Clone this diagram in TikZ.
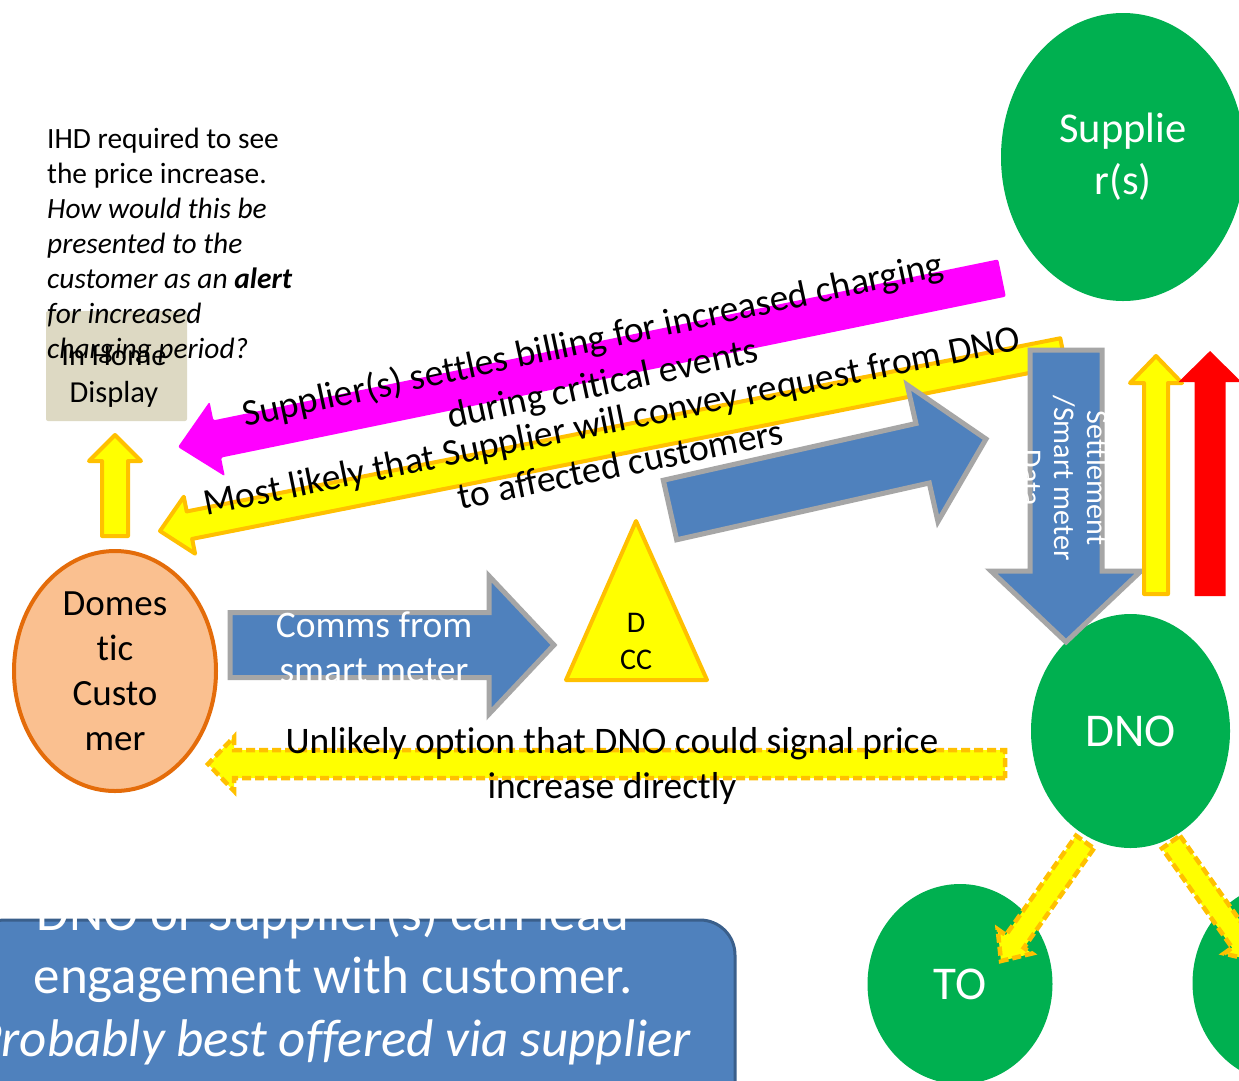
\documentclass[tikz,border=0pt]{standalone}
\usepackage{fontspec}
\setmainfont[Ligatures={NoCommon}]{Carlito}
\usetikzlibrary{shapes.geometric,calc}
\definecolor{grn}{HTML}{00B050}
\definecolor{blu}{HTML}{4F81BD}
\definecolor{bludk}{HTML}{3A5F8B}
\definecolor{gry}{HTML}{A6A6A6}
\definecolor{org}{HTML}{FFC000}
\definecolor{orgdk}{HTML}{E46C0A}
\definecolor{peach}{HTML}{FAC090}
\definecolor{ihdfill}{HTML}{DDD9C3}
\definecolor{mag}{HTML}{FF00FF}
\definecolor{yel}{HTML}{FFFF00}
\definecolor{rd}{HTML}{FF0000}
% block arrow: #1 style, #2 tail, #3 tip, #4 half body, #5 half head, #6 head length
\newcommand{\blockarrow}[6]{%
  \coordinate (bab) at ($(#3)!#6!(#2)$);
  \path[#1] ($(#2)!#4!90:(#3)$) -- ($(bab)!#4!90:(#3)$) -- ($(bab)!#5!90:(#3)$) -- (#3)
    -- ($(bab)!#5!-90:(#3)$) -- ($(bab)!#4!-90:(#3)$) -- ($(#2)!#4!-90:(#3)$) -- cycle;}
\tikzset{
  greenell/.style={ellipse, fill=grn, text=white, inner sep=0pt},
  bluearr/.style={fill=blu, draw=gry, line width=5pt, line join=miter},
  yelarr/.style={fill=yel, draw=org, line width=4pt, line join=round},
  yeldash/.style={fill=yel, draw=org, line width=4.5pt, dash pattern=on 9pt off 4pt},
  magarr/.style={fill=mag, rounded corners=2pt},
  redarr/.style={fill=rd},
  lbl/.style={font=\fontsize{37.5}{45}\selectfont, align=center, inner sep=0pt},
}
\begin{document}
\begin{tikzpicture}[x=1pt,y=-1pt]
\clip (0,0) rectangle (1239,1080);
\fill[white] (0,0) rectangle (1239,1080);

% bottom note box
\draw[fill=blu, draw=bludk, line width=3pt, rounded corners=35pt]
  (-30,1120) -- (-30,920) -- (735,920) -- (735,1120);
\node[font=\fontsize{53}{63}\selectfont, text=white, align=center, inner sep=0pt] (note) at (333,978)
  {DNO or Supplier(s) can lead\\engagement with customer.\\\textit{Probably best offered via supplier}};

% ellipses
\node[greenell, minimum width=244pt, minimum height=288pt, font=\fontsize{42.5}{52}\selectfont, align=center] (supplier) at (1123,157) {Supplie\\r(s)};
\node[greenell, minimum width=199pt, minimum height=234pt, font=\fontsize{47}{52}\selectfont] (dno) at (1130.5,731) {DNO};
\node[greenell, minimum width=185pt, minimum height=200pt, font=\fontsize{47}{52}\selectfont] (to) at (960,984) {TO};
\node[greenell, minimum width=185pt, minimum height=200pt] (tx) at (1285,983) {};
\node[ellipse, fill=peach, draw=orgdk, line width=4pt, minimum width=202pt, minimum height=240pt, inner sep=0pt, font=\fontsize{37}{45}\selectfont, align=center] (cust) at (115,671) {Domes\\tic\\Custo\\mer};

% in home display
\node[rectangle, fill=ihdfill, rounded corners=2pt, minimum width=141pt, minimum height=110pt, inner sep=0pt] (ihd) at (116.5,366) {};
\node[font=\fontsize{30.5}{37}\selectfont, align=center, inner sep=0pt] (ihdlabel) at (114,377) {In Home\\Display};

% IHD note
\node[anchor=north west, font=\fontsize{29.4}{35}\selectfont, align=left, inner sep=0pt] (ihdnote) at (47,128)
  {IHD required to see\\the price increase.\\\textit{How would this be}\\\textit{presented to the}\\\textit{customer as an \textbf{alert}}\\\textit{for increased}\\\textit{charging period?}};

% arrow end points
\coordinate (ihdT) at (115,536);   \coordinate (ihdH) at (115,435);
\coordinate (magT) at (1002,278);  \coordinate (magH) at (178,447);
\coordinate (yelT) at (1063,352);  \coordinate (yelH) at (160,531);
\coordinate (bdT) at (670,510);    \coordinate (bdH) at (986,439);
\coordinate (setT) at (1066,350);  \coordinate (setH) at (1066,642);
\coordinate (ryT) at (1156,594);   \coordinate (ryH) at (1156,356);
\coordinate (rdT) at (1210,596);   \coordinate (rdH) at (1210,351);
\coordinate (cmT) at (230,645);    \coordinate (cmH) at (554,645);
\coordinate (dsT) at (1005,764);   \coordinate (dsH) at (208,764);
\coordinate (toT) at (1085,842);   \coordinate (toH) at (1001,961);
\coordinate (txT) at (1171,842);   \coordinate (txH) at (1255,961);

\blockarrow{yelarr}{ihdT}{ihdH}{13pt}{26pt}{26pt}
\blockarrow{magarr}{magT}{magH}{19pt}{38pt}{40pt}
\blockarrow{yelarr}{yelT}{yelH}{14pt}{29pt}{30pt}
\blockarrow{bluearr}{bdT}{bdH}{30.5pt}{70pt}{65pt}
\blockarrow{bluearr}{setT}{setH}{36pt}{75pt}{71pt}
\blockarrow{yelarr}{ryT}{ryH}{12pt}{26pt}{27pt}
\blockarrow{redarr}{rdT}{rdH}{15.5pt}{31.5pt}{31pt}

\node[rotate=-90, font=\fontsize{30}{33}\selectfont, text=white, align=center, inner sep=0pt] (settle) at (1065,478) {Settlement\\/Smart meter\\Data};

\node[lbl, rotate=12.2] (magtext) at (598,363) {Supplier(s) settles billing for increased charging\\during critical events};
\node[lbl, rotate=11.5] (yeltext) at (616,442) {Most likely that Supplier will convey request from DNO\\to affected customers};

% comms arrow and DCC
\blockarrow{bluearr}{cmT}{cmH}{32.5pt}{69pt}{65pt}
\node[lbl, text=white] (comms) at (374,647) {Comms from\\smart meter};
\draw[yelarr] (636,521) -- (707,680) -- (566,680) -- cycle;
\node[font=\fontsize{30}{37}\selectfont, align=center, inner sep=0pt] (dcc) at (636,641) {D\\CC};

% dashed arrows
\blockarrow{yeldash}{dsT}{dsH}{14pt}{27pt}{26pt}
\node[lbl] (unlikely) at (612,766) {Unlikely option that DNO could signal price\\increase directly};
\blockarrow{yeldash}{toT}{toH}{11pt}{21pt}{24pt}
\blockarrow{yeldash}{txT}{txH}{11pt}{21pt}{24pt}
\end{tikzpicture}
\end{document}
